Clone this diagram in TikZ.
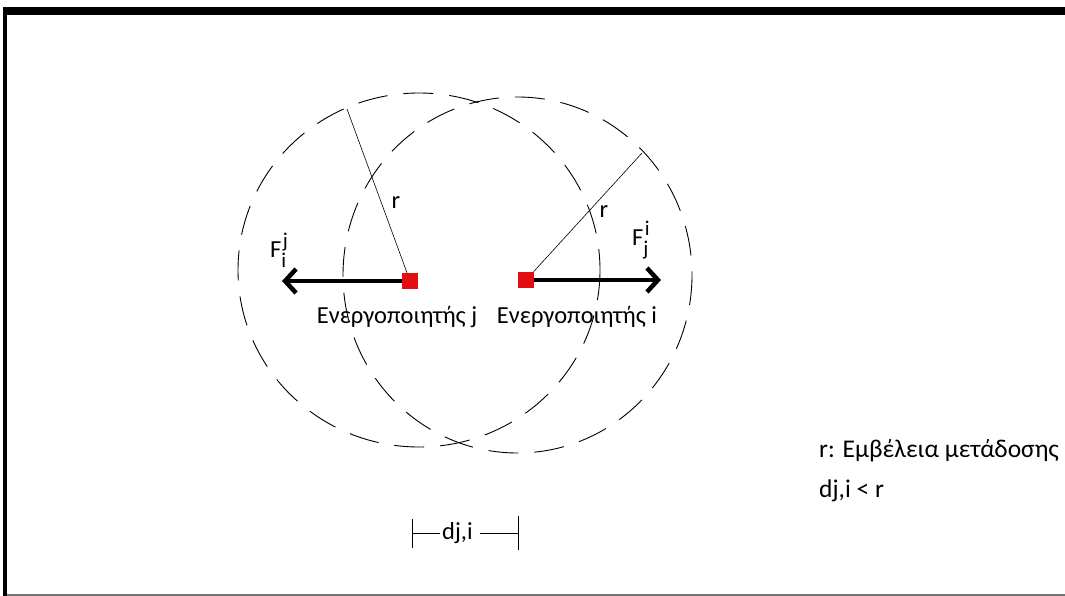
\documentclass[tikz,border=0pt]{standalone}
\usepackage{fontspec}
\setmainfont{Carlito}
\usepackage{tikz}
\usetikzlibrary{arrows.meta}

\definecolor{actred}{RGB}{226,14,20}
\newcommand{\Fij}[2]{F{\fontsize{21}{24}\selectfont\rlap{\hspace{1.5pt}\raisebox{10pt}{#2}}\raisebox{-10pt}{#1}}}

\begin{document}
\begin{tikzpicture}[
    x=1pt,
    y=-1pt,
    >={Straight Barb[length=11pt, width=24pt]},
    frameline/.style={fill=black},
    rangering/.style={dash pattern=on 30pt off 16pt, line width=0.9pt, black},
    radline/.style={line width=0.6pt, black},
    force/.style={->, line width=4.5pt, black},
    actuator/.style={rectangle, fill=actred, minimum size=16pt, inner sep=0pt},
    txt/.style={font=\fontsize{24.5}{28}\selectfont, inner sep=0pt, anchor=base},
    legtxt/.style={font=\fontsize{25.5}{28}\selectfont, inner sep=0pt, anchor=base west},
    dimline/.style={line width=0.9pt, black},
]
\useasboundingbox (0,0) rectangle (1065,596);
% frame
\fill[frameline] (3,7) rectangle (1065,15);
\fill[frameline] (3,7) rectangle (7,596);
\draw[line width=1.5pt, black!55] (7,595) -- (1065,595);
% transmission ranges
\draw[rangering] (419,270) ellipse [x radius=181, y radius=177];
\draw[rangering] (517.5,275) ellipse [x radius=174.5, y radius=178];
% actuators
\node[actuator] (actj) at (410,281) {};
\node[actuator] (acti) at (526,280) {};
\coordinate (tipj) at (282,281);
\coordinate (tipi) at (661,280);
\coordinate (rimj) at (347,109);
\coordinate (rimi) at (642,153);
\draw[radline] (actj) -- (rimj);
\draw[radline] (acti) -- (rimi);
\draw[force] (actj.west) -- (tipj);
\draw[force] (acti.east) -- (tipi);
\node[txt] (rj) at (396,208) {r};
\node[txt] (ri) at (604,218) {r};
\node[txt, anchor=base west] (fj) at (270,257) {\Fij{i}{j}};
\node[txt, anchor=base west] (fi) at (632,245) {\Fij{j}{i}};
\node[txt] (namej) at (397,323) {Ενεργοποιητής j};
\node[txt] (namei) at (577,323) {Ενεργοποιητής i};
% distance
\node[txt, anchor=base west] (dlab) at (442,539) {dj,i};
\coordinate (dl) at (412,533);
\coordinate (dr) at (519,533);
\draw[dimline, {Bar[width=29pt]}-] (dl) -- ([xshift=-2pt]dlab.west |- dl);
\draw[dimline, -{Bar[width=34pt]}] ([xshift=7pt]dlab.east |- dr) -- (dr);
% legend
\node[legtxt] (legr) at (819,457) {r: Εμβέλεια μετάδοσης};
\node[legtxt] (legd) at (819,497) {dj,i < r};
\end{tikzpicture}
\end{document}
